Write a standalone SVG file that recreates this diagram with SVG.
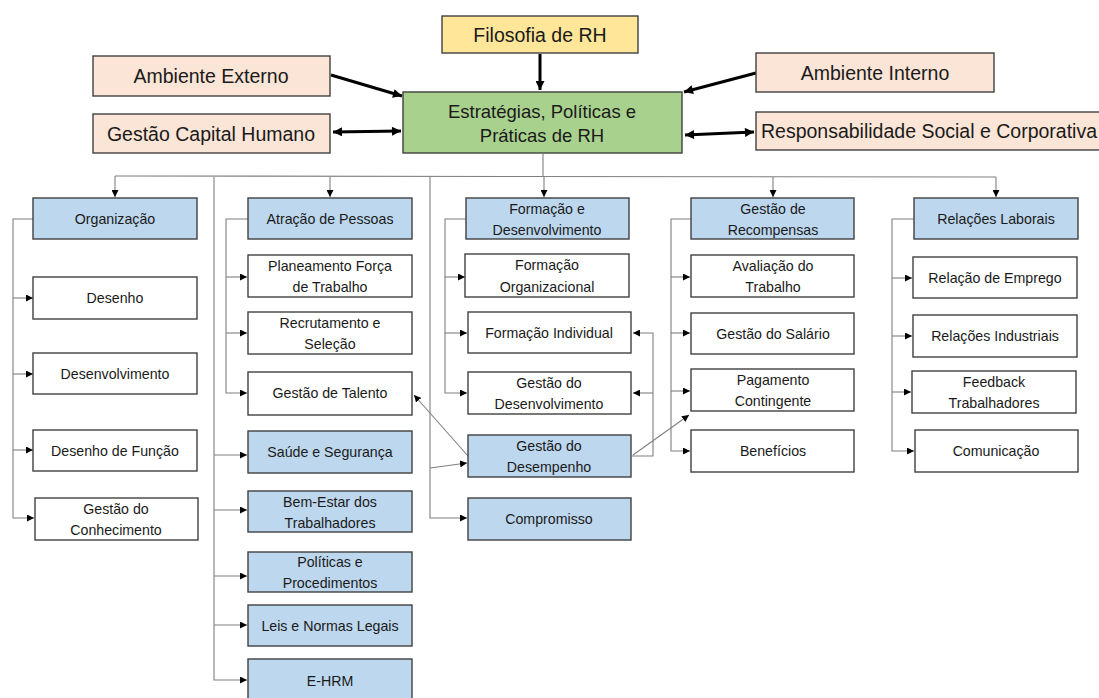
<svg xmlns="http://www.w3.org/2000/svg" width="1099" height="698" viewBox="0 0 1099 698">
<defs>
<style>
text{font-family:"Liberation Sans",Arial,sans-serif;fill:#1a1a1a;text-anchor:middle}
.t{font-size:19.5px}
.g{font-size:18.5px}
.n{font-size:14.2px}
.box{stroke:#404040;stroke-width:1.4}
.peach{fill:#FBE5D6}.yellow{fill:#FFE699}.green{fill:#A9D18E}.blue{fill:#BDD7EE}.white{fill:#FFFFFF}
.c{fill:none;stroke:#7f7f7f;stroke-width:1.1}
.ca{fill:none;stroke:#7f7f7f;stroke-width:1.1;marker-end:url(#a)}
.k{fill:none;stroke:#000;stroke-width:3;marker-end:url(#b)}
.kk{fill:none;stroke:#000;stroke-width:3;marker-end:url(#b);marker-start:url(#b)}
</style>
<marker id="a" viewBox="0 0 10 10" refX="10" refY="5" markerWidth="7" markerHeight="7" markerUnits="userSpaceOnUse" orient="auto-start-reverse"><path d="M0,0 L10,5 L0,10 z" fill="#000"/></marker>
<marker id="b" viewBox="0 0 10 10" refX="10" refY="5" markerWidth="10" markerHeight="9" markerUnits="userSpaceOnUse" orient="auto-start-reverse"><path d="M0,0 L10,5 L0,10 z" fill="#000"/></marker>
</defs>

<g id="connectors">
<path class="k" d="M540,54 L540,90"/>
<path class="k" d="M331,75 L402,96"/>
<path class="kk" d="M333,132 L401,131"/>
<path class="k" d="M756,73 L684,92"/>
<path class="kk" d="M685,135 L754,132"/>
<path class="c" d="M543,154 L543,177"/>
<path class="c" d="M115,176 L996,177"/>
<path class="ca" d="M115,176 L115,197"/>
<path class="ca" d="M330,177 L330,197"/>
<path class="ca" d="M544,177 L544,197"/>
<path class="ca" d="M773,177 L773,197"/>
<path class="ca" d="M996,177 L996,197"/>
<path class="ca" d="M214,177 L214,680 L247,680"/>
<path class="ca" d="M214,455 L247,455"/>
<path class="ca" d="M214,510 L247,510"/>
<path class="ca" d="M214,576 L247,576"/>
<path class="ca" d="M214,625 L247,625"/>
<path class="ca" d="M430,177 L430,518 L467,518"/>
<path class="ca" d="M430,468 L467,463"/>
<path class="ca" d="M33,219 L13,219 L13,518 L34,518"/>
<path class="ca" d="M13,298 L33,298"/>
<path class="ca" d="M13,374 L33,374"/>
<path class="ca" d="M13,450 L33,450"/>
<path class="ca" d="M248,219 L226,219 L226,393 L247,393"/>
<path class="ca" d="M226,277 L247,277"/>
<path class="ca" d="M226,333 L247,333"/>
<path class="ca" d="M466,219 L445,219 L445,393 L467,393"/>
<path class="ca" d="M445,277 L465,277"/>
<path class="ca" d="M445,333 L467,333"/>
<path class="ca" d="M691,219 L671,219 L671,451 L690,451"/>
<path class="ca" d="M671,277 L690,277"/>
<path class="ca" d="M671,333 L690,333"/>
<path class="ca" d="M671,391 L690,391"/>
<path class="ca" d="M914,219 L892,219 L892,451 L914,451"/>
<path class="ca" d="M892,278 L912,278"/>
<path class="ca" d="M892,336 L912,336"/>
<path class="ca" d="M892,392 L911,392"/>
<path class="c" d="M632,456 L653,456 L653,393"/>
<path class="ca" d="M653,393 L653,333 L633,333"/>
<path class="ca" d="M653,393 L633,393"/>
<path class="ca" d="M468,456 L414,395"/>
<path class="ca" d="M633,455 L689,415"/>
</g>

<g id="filosofia"><rect class="box yellow" x="442" y="16" width="196" height="37"/><text class="t" x="540" y="42">Filosofia de RH</text></g>
<g id="ambiente-externo"><rect class="box peach" x="93" y="56" width="237" height="40"/><text class="t" x="211" y="83">Ambiente Externo</text></g>
<g id="gestao-capital"><rect class="box peach" x="93" y="114" width="237" height="39"/><text class="t" x="211" y="141">Gestão Capital Humano</text></g>
<g id="estrategias"><rect class="box green" x="403" y="92" width="279" height="61"/><text class="g" x="542" y="118">Estratégias, Políticas e</text><text class="g" x="542" y="142">Práticas de RH</text></g>
<g id="ambiente-interno"><rect class="box peach" x="756" y="53" width="238" height="39"/><text class="t" x="875" y="80">Ambiente Interno</text></g>
<g id="responsabilidade"><rect class="box peach" x="756" y="112" width="350" height="38"/><text class="t" x="929" y="138">Responsabilidade Social e Corporativa</text></g>

<g id="organizacao"><rect class="box blue" x="33" y="198" width="164" height="41"/><text class="n" x="115" y="224">Organização</text></g>
<g id="desenho"><rect class="box white" x="33" y="277" width="164" height="42"/><text class="n" x="115" y="303">Desenho</text></g>
<g id="desenvolvimento"><rect class="box white" x="33" y="353" width="164" height="41"/><text class="n" x="115" y="379">Desenvolvimento</text></g>
<g id="desenho-funcao"><rect class="box white" x="33" y="430" width="164" height="41"/><text class="n" x="115" y="456">Desenho de Função</text></g>
<g id="gestao-conhecimento"><rect class="box white" x="35" y="498" width="163" height="42"/><text class="n" x="116" y="514">Gestão do</text><text class="n" x="116" y="535">Conhecimento</text></g>

<g id="atracao"><rect class="box blue" x="248" y="198" width="164" height="41"/><text class="n" x="330" y="224">Atração de Pessoas</text></g>
<g id="planeamento"><rect class="box white" x="248" y="255" width="164" height="42"/><text class="n" x="330" y="271">Planeamento Força</text><text class="n" x="330" y="292">de Trabalho</text></g>
<g id="recrutamento"><rect class="box white" x="248" y="312" width="164" height="42"/><text class="n" x="330" y="328">Recrutamento e</text><text class="n" x="330" y="349">Seleção</text></g>
<g id="gestao-talento"><rect class="box white" x="248" y="372" width="164" height="43"/><text class="n" x="330" y="398">Gestão de Talento</text></g>
<g id="saude"><rect class="box blue" x="248" y="431" width="164" height="42"/><text class="n" x="330" y="457">Saúde e Segurança</text></g>
<g id="bem-estar"><rect class="box blue" x="248" y="491" width="164" height="41"/><text class="n" x="330" y="507">Bem-Estar dos</text><text class="n" x="330" y="528">Trabalhadores</text></g>
<g id="politicas"><rect class="box blue" x="248" y="552" width="164" height="40"/><text class="n" x="330" y="567">Políticas e</text><text class="n" x="330" y="588">Procedimentos</text></g>
<g id="leis"><rect class="box blue" x="248" y="605" width="164" height="41"/><text class="n" x="330" y="631">Leis e Normas Legais</text></g>
<g id="ehrm"><rect class="box blue" x="248" y="659" width="164" height="42"/><text class="n" x="330" y="686">E-HRM</text></g>

<g id="formacao-desenvolvimento"><rect class="box blue" x="466" y="198" width="163" height="41"/><text class="n" x="547" y="214">Formação e</text><text class="n" x="547" y="235">Desenvolvimento</text></g>
<g id="formacao-organizacional"><rect class="box white" x="465" y="254" width="164" height="43"/><text class="n" x="547" y="270">Formação</text><text class="n" x="547" y="292">Organizacional</text></g>
<g id="formacao-individual"><rect class="box white" x="468" y="312" width="163" height="41"/><text class="n" x="549" y="338">Formação Individual</text></g>
<g id="gestao-desenvolvimento"><rect class="box white" x="468" y="372" width="163" height="42"/><text class="n" x="549" y="388">Gestão do</text><text class="n" x="549" y="409">Desenvolvimento</text></g>
<g id="gestao-desempenho"><rect class="box blue" x="468" y="435" width="163" height="42"/><text class="n" x="549" y="451">Gestão do</text><text class="n" x="549" y="472">Desempenho</text></g>
<g id="compromisso"><rect class="box blue" x="468" y="498" width="163" height="42"/><text class="n" x="549" y="524">Compromisso</text></g>

<g id="gestao-recompensas"><rect class="box blue" x="691" y="198" width="163" height="41"/><text class="n" x="773" y="214">Gestão de</text><text class="n" x="773" y="235">Recompensas</text></g>
<g id="avaliacao"><rect class="box white" x="691" y="255" width="163" height="42"/><text class="n" x="773" y="271">Avaliação do</text><text class="n" x="773" y="292">Trabalho</text></g>
<g id="gestao-salario"><rect class="box white" x="691" y="313" width="163" height="41"/><text class="n" x="773" y="339">Gestão do Salário</text></g>
<g id="pagamento"><rect class="box white" x="691" y="369" width="163" height="42"/><text class="n" x="773" y="385">Pagamento</text><text class="n" x="773" y="406">Contingente</text></g>
<g id="beneficios"><rect class="box white" x="691" y="430" width="163" height="42"/><text class="n" x="773" y="456">Benefícios</text></g>

<g id="relacoes-laborais"><rect class="box blue" x="914" y="198" width="164" height="41"/><text class="n" x="996" y="224">Relações Laborais</text></g>
<g id="relacao-emprego"><rect class="box white" x="913" y="257" width="164" height="41"/><text class="n" x="995" y="283">Relação de Emprego</text></g>
<g id="relacoes-industriais"><rect class="box white" x="913" y="315" width="164" height="42"/><text class="n" x="995" y="341">Relações Industriais</text></g>
<g id="feedback"><rect class="box white" x="912" y="371" width="164" height="42"/><text class="n" x="994" y="387">Feedback</text><text class="n" x="994" y="408">Trabalhadores</text></g>
<g id="comunicacao"><rect class="box white" x="915" y="430" width="163" height="42"/><text class="n" x="996" y="456">Comunicação</text></g>
</svg>
